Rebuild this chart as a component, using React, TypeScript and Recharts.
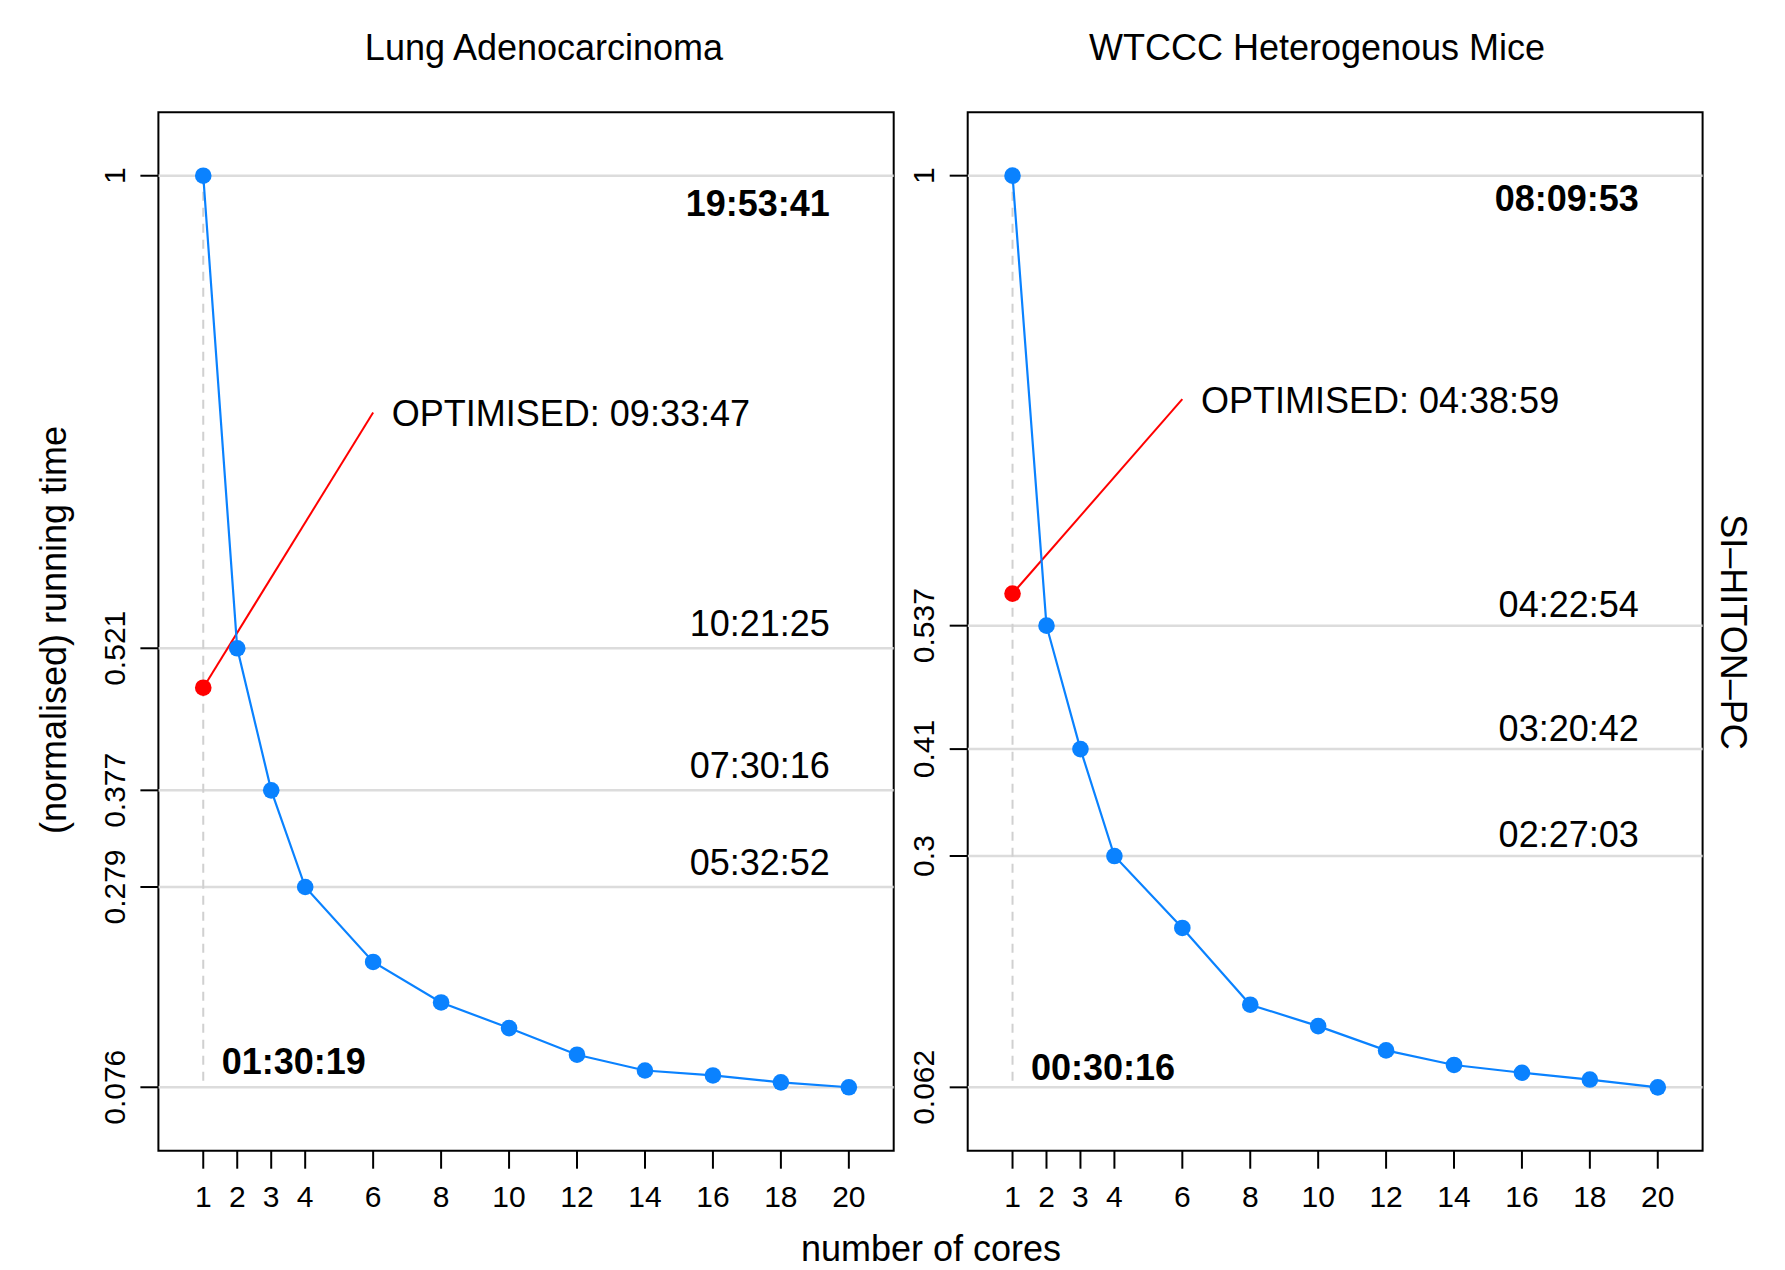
import React from "react";
import { LineChart, Line, XAxis, YAxis, ReferenceLine, ReferenceDot, ReferenceArea } from "recharts";

// number of cores on the x axis (also the x ticks)
const cores = [1, 2, 3, 4, 6, 8, 10, 12, 14, 16, 18, 20];

// normalised running time per panel
const lungTime = [1, 0.521, 0.377, 0.279, 0.203, 0.162, 0.136, 0.109, 0.093, 0.088, 0.081, 0.076];
const miceTime = [1, 0.537, 0.41, 0.3, 0.226, 0.147, 0.125, 0.1, 0.085, 0.077, 0.07, 0.062];

// y ticks and the wall-clock times written next to them
const lungTicks = [0.076, 0.279, 0.377, 0.521, 1];
const miceTicks = [0.062, 0.3, 0.41, 0.537, 1];
const lungClock = ["01:30:19", "05:32:52", "07:30:16", "10:21:25", "19:53:41"];
const miceClock = ["00:30:16", "02:27:03", "03:20:42", "04:22:54", "08:09:53"];

// optimised run (red point at 1 core)
const optimisedTime = [0.481, 0.57];
const optimisedClock = ["OPTIMISED: 09:33:47", "OPTIMISED: 04:38:59"];

const titles = ["Lung Adenocarcinoma", "WTCCC Heterogenous Mice"];

const FONT = "'Liberation Sans', Arial, Helvetica, sans-serif";
const BLUE = "#0a82ff";
const RED = "#ff0000";
const X_DOMAIN: [number, number] = [-0.32, 21.32];
const LABEL_X = 19.44;

const XTick = (p: any) => (
  <text x={p.x} y={p.y + 22} textAnchor="middle" fontSize={30} fontFamily={FONT} fill="#000">
    {p.payload.value}
  </text>
);

const YTick = (p: any) => (
  <text
    x={p.x}
    y={p.y}
    transform={`rotate(-90 ${p.x} ${p.y})`}
    textAnchor="middle"
    fontSize={30}
    fontFamily={FONT}
    fill="#000"
  >
    {String(p.payload.value)}
  </text>
);

const clockText = (text: string, anchor: string, dx: number, dy: number, bold: boolean, color = "#000") => (p: any) => (
  <text
    x={p.cx + dx}
    y={p.cy + dy}
    textAnchor={anchor}
    fontSize={36}
    fontWeight={bold ? "bold" : "normal"}
    fontFamily={FONT}
    fill={color}
  >
    {text}
  </text>
);

type PanelProps = {
  left: number;
  width: number;
  axisWidth: number;
  rightMargin: number;
  values: number[];
  ticks: number[];
  clock: string[];
  opt: number;
  optLabel: string;
  calloutEnd: [number, number];
  yDomain: [number, number];
  shifts: { top: number; mid: number; bottom: number };
};

function Panel(props: PanelProps) {
  const { left, width, axisWidth, rightMargin, values, ticks, clock, opt, optLabel, calloutEnd, yDomain, shifts } = props;
  const data = cores.map((c, i) => ({ cores: c, time: values[i] }));
  const n = ticks.length;
  return (
    <div style={{ position: "absolute", left, top: 0 }}>
      <LineChart width={width} height={1270} data={data} margin={{ top: 112.3, right: rightMargin, bottom: 0, left: 0 }}>
        <XAxis
          dataKey="cores"
          type="number"
          domain={X_DOMAIN}
          allowDataOverflow
          ticks={cores}
          interval={0}
          height={119.3}
          tickSize={18}
          tickMargin={16.6}
          axisLine={false}
          tickLine={{ stroke: "#000", strokeWidth: 2 }}
          tick={XTick}
        />
        <YAxis
          type="number"
          domain={yDomain}
          allowDataOverflow
          ticks={ticks}
          interval={0}
          width={axisWidth}
          tickSize={18}
          tickMargin={15.5}
          axisLine={false}
          tickLine={{ stroke: "#000", strokeWidth: 2 }}
          tick={YTick}
        />
        {ticks.map((t) => (
          <ReferenceLine key={t} y={t} stroke="#dcdcdc" strokeWidth={2.5} />
        ))}
        <ReferenceLine
          segment={[{ x: 1, y: 1 }, { x: 1, y: ticks[0] }]}
          stroke="#d0d0d0"
          strokeWidth={2}
          strokeDasharray="9 7"
        />
        <ReferenceLine
          segment={[{ x: 1, y: opt }, { x: calloutEnd[0], y: calloutEnd[1] }]}
          stroke={RED}
          strokeWidth={2}
          ifOverflow="visible"
        />
        <Line
          dataKey="time"
          stroke={BLUE}
          strokeWidth={2.2}
          dot={{ r: 8.3, fill: BLUE, stroke: "none" }}
          activeDot={false}
          isAnimationActive={false}
        />
        <ReferenceDot x={1} y={opt} r={8.3} fill={RED} stroke="none" />
        <ReferenceDot
          x={calloutEnd[0] + 0.55}
          y={calloutEnd[1]}
          shape={clockText(optLabel, "start", 0, 13.5, false)}
        />
        <ReferenceDot x={LABEL_X} y={ticks[n - 1]} shape={clockText(clock[n - 1], "end", 0, shifts.top, true)} />
        {ticks.slice(1, n - 1).map((t, i) => (
          <ReferenceDot key={t} x={LABEL_X} y={t} shape={clockText(clock[i + 1], "end", 0, shifts.mid, false)} />
        ))}
        <ReferenceDot x={1} y={ticks[0]} shape={clockText(clock[0], "start", 18.4, shifts.bottom, true)} />
        <ReferenceArea
          x1={X_DOMAIN[0]}
          x2={X_DOMAIN[1]}
          y1={yDomain[0]}
          y2={yDomain[1]}
          fill="none"
          fillOpacity={0}
          stroke="#000"
          strokeWidth={2}
          ifOverflow="visible"
        />
      </LineChart>
    </div>
  );
}

export default function App() {
  return (
    <div style={{ position: "absolute", left: 0, top: 0, width: 1785, height: 1270, background: "#fff", fontFamily: FONT }}>
      <Panel
        left={0}
        width={905}
        axisWidth={158.4}
        rightMargin={11.3}
        values={lungTime}
        ticks={lungTicks}
        clock={lungClock}
        opt={optimisedTime[0]}
        optLabel={optimisedClock[0]}
        calloutEnd={[6, 0.76]}
        yDomain={[0.0117, 1.0643]}
        shifts={{ top: 40.3, mid: -12.5, bottom: -13.3 }}
      />
      <Panel
        left={905}
        width={880}
        axisWidth={62.7}
        rightMargin={82.4}
        values={miceTime}
        ticks={miceTicks}
        clock={miceClock}
        opt={optimisedTime[1]}
        optLabel={optimisedClock[1]}
        calloutEnd={[6, 0.77]}
        yDomain={[-0.0032, 1.0652]}
        shifts={{ top: 35, mid: -8.6, bottom: -7.3 }}
      />
      <svg width={1785} height={1270} style={{ position: "absolute", left: 0, top: 0, pointerEvents: "none" }}>
        <text x={544} y={60} textAnchor="middle" fontSize={36} fontFamily={FONT} fill="#000">
          {titles[0]}
        </text>
        <text x={1317} y={60} textAnchor="middle" fontSize={36} fontFamily={FONT} fill="#000">
          {titles[1]}
        </text>
        <text x={66} y={630} transform="rotate(-90 66 630)" textAnchor="middle" fontSize={36} fontFamily={FONT} fill="#000">
          (normalised) running time
        </text>
        <text x={931} y={1261} textAnchor="middle" fontSize={36} fontFamily={FONT} fill="#000">
          number of cores
        </text>
        <text x={1721} y={632} transform="rotate(90 1721 632)" textAnchor="middle" fontSize={36} fontFamily={FONT} fill="#000">
          SI–HITON–PC
        </text>
      </svg>
    </div>
  );
}
